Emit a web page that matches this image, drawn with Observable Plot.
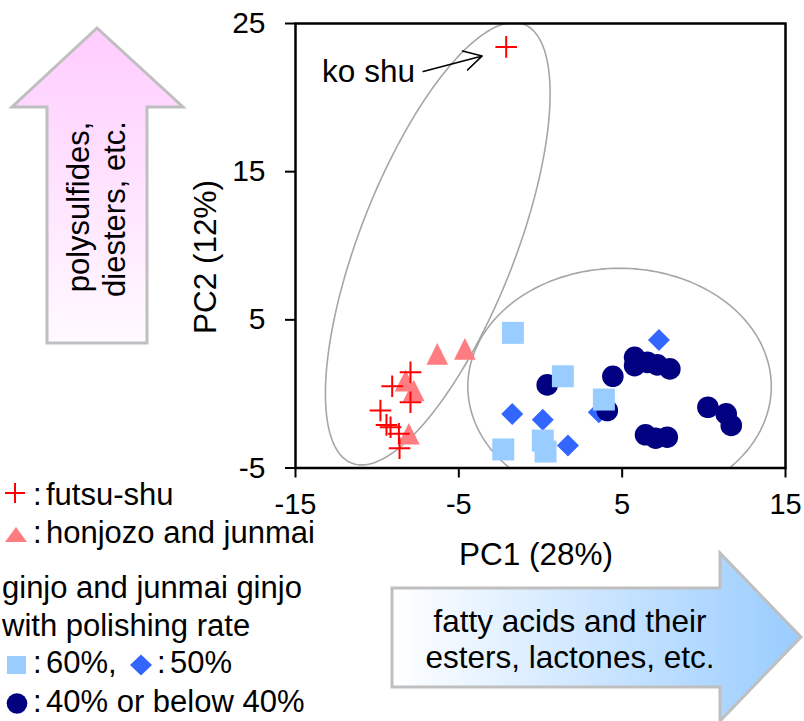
<!DOCTYPE html>
<html><head><meta charset="utf-8">
<script src="https://cdn.jsdelivr.net/npm/d3@7"></script>
<script src="https://cdn.jsdelivr.net/npm/@observablehq/plot@0.6"></script>
<style>
body{margin:0;background:#fff;}
#wrap{position:relative;width:804px;height:721px;overflow:hidden;}
#wrap svg{position:absolute;left:0;top:0;}
</style></head><body><div id="wrap"></div>
<script>
// ---- data ----
const xTicks = [-15, -5, 5, 15];
const yTicks = [-5, 5, 15, 25];

// futsu-shu (red plus); first point is "ko shu"
const futsuX = [-2.10, -7.96, -9.08, -7.96, -9.80, -9.43, -9.18, -8.67, -8.63];
const futsuY = [23.42, 1.46, 0.52, -0.56, -1.12, -2.09, -2.25, -2.69, -3.66];
// honjozo and junmai (salmon triangles)
const honjozoX = [-6.32, -4.63, -8.26, -7.76, -8.06];
const honjozoY = [2.70, 3.04, 0.90, 0.23, -2.69];
// ginjo 60% (light blue squares)
const sq60X = [-1.69, 1.37, 3.88, -2.28, 0.14, 0.31];
const sq60Y = [4.12, 1.19, -0.38, -3.75, -3.15, -3.89];
// ginjo 50% (blue diamonds)
const dia50X = [-1.73, 0.14, 1.68, 3.57, 7.25];
const dia50Y = [-1.35, -1.75, -3.48, -1.24, 3.64];
// ginjo 40% or below (navy circles)
const c40X = [0.41, 4.43, 4.09, 5.76, 5.76, 6.54, 7.15, 7.92, 10.25, 11.37, 11.68, 6.43, 7.05, 7.76];
const c40Y = [0.61, 1.19, -1.12, 2.47, 1.91, 2.13, 1.96, 1.69, -0.90, -1.35, -2.13, -2.76, -2.99, -2.92];

// grouping ellipses: centre and two semi-axis vectors, data units
const ellipses = [
  {cx: -6.29, cy: 10.14, ax: 5.27, ay: 14.81, bx: 4.42, by: -1.907},
  {cx: 4.84, cy: 0.50, ax: 9.29, ay: 0, bx: 0, by: 7.98}
];
// annotation
const koShuLabel = [{x: -13.37, y: 21.71, text: "ko shu"}];
const koShuArrow = [{x1: -7.18, y1: 21.76, x2: -3.57, y2: 22.81}];

// ---- build tables ----
const pts = (xs, ys) => xs.map((x, i) => ({x, y: ys[i]}));
const futsu = pts(futsuX, futsuY);
const honjozo = pts(honjozoX, honjozoY);
const sq60 = pts(sq60X, sq60Y);
const dia50 = pts(dia50X, dia50Y);
const c40 = pts(c40X, c40Y);
const ellipsePath = e => d3.range(0, 361, 2).map(d => {
  const t = d * Math.PI / 180;
  return {x: e.cx + e.ax * Math.cos(t) + e.bx * Math.sin(t),
          y: e.cy + e.ay * Math.cos(t) + e.by * Math.sin(t)};
});

// custom isoceles triangle (width == height)
const triSym = {draw(ctx, size) {
  const s = Math.sqrt(size) / 2;
  ctx.moveTo(0, -s); ctx.lineTo(s, s); ctx.lineTo(-s, s); ctx.closePath();
}};

const FONT = '"Liberation Sans", Arial, Helvetica, sans-serif';
const fmt = d => String(d);

const plot = Plot.plot({
  width: 804, height: 721,
  marginLeft: 295, marginRight: 19, marginTop: 23, marginBottom: 253.5,
  x: {domain: [-15, 15]},
  y: {domain: [-5, 25]},
  style: {fontFamily: FONT, background: "transparent", color: "#000", overflow: "visible"},
  marks: [
    ...ellipses.map(e => Plot.line(ellipsePath(e), {x: "x", y: "y", stroke: "#A6A6A6", strokeWidth: 1.6, clip: true})),
    Plot.axisX({ticks: xTicks, tickSize: 10, tickPadding: 15, tickFormat: fmt, fontSize: 29, label: null, strokeWidth: 2}),
    Plot.axisY({ticks: yTicks, tickSize: 10, tickPadding: 20, tickFormat: fmt, fontSize: 30, label: null, strokeWidth: 2}),
    Plot.dot(dia50, {x: "x", y: "y", symbol: "diamond2", r: 9.9, fill: "#3366FF", stroke: "none"}),
    Plot.dot(c40, {x: "x", y: "y", symbol: "circle", r: 10.8, fill: "#000080", stroke: "none"}),
    Plot.dot(sq60, {x: "x", y: "y", symbol: "square", r: 12.4, fill: "#99CCFF", stroke: "none"}),
    Plot.dot(honjozo, {x: "x", y: "y", symbol: triSym, r: 12.2, fill: "#FF7C80", stroke: "none"}),
    Plot.dot(futsu, {x: "x", y: "y", symbol: "plus", r: 7.0, fill: "none", stroke: "#FF0000", strokeWidth: 2}),
    Plot.arrow(koShuArrow, {x1: "x1", y1: "y1", x2: "x2", y2: "y2", stroke: "#000", strokeWidth: 1.6, headLength: 20, headAngle: 58}),
    Plot.text(koShuLabel, {x: "x", y: "y", text: "text", textAnchor: "start", fontSize: 31.5, fill: "#000"}),
    Plot.frame({stroke: "#000", strokeWidth: 2.5})
  ]
});
document.getElementById("wrap").appendChild(plot);

// ---- overlay: axis titles, direction arrows, legend ----
const ov = `
<svg xmlns="http://www.w3.org/2000/svg" width="804" height="721" font-family='${FONT}' fill="#000">
 <defs>
  <linearGradient id="gUp" x1="0" y1="1" x2="0" y2="0">
   <stop offset="0" stop-color="#FFFAFF"/><stop offset="1" stop-color="#FFCCFF"/>
  </linearGradient>
  <linearGradient id="gRight" x1="0" y1="0" x2="1" y2="0">
   <stop offset="0" stop-color="#FFFFFF"/><stop offset="1" stop-color="#99CCFF"/>
  </linearGradient>
 </defs>
 <text x="536" y="565" font-size="31.5" text-anchor="middle">PC1 (28%)</text>
 <text transform="translate(216,257) rotate(-90)" font-size="31.5" text-anchor="middle">PC2 (12%)</text>

 <polygon points="97,28 183,107 147,107 147,343 47,343 47,107 12,107" fill="url(#gUp)" stroke="#BFBFBF" stroke-width="3" stroke-linejoin="miter"/>
 <g transform="rotate(-90)" font-size="31" text-anchor="middle">
  <text x="-207" y="89">polysulfides,</text>
  <text x="-209" y="125">diesters, etc.</text>
 </g>

 <polygon points="392,588 720,588 720,553 801,637 720,721 720,687 392,687" fill="url(#gRight)" stroke="#BFBFBF" stroke-width="3"/>
 <g font-size="31.5" text-anchor="middle">
  <text x="570" y="632">fatty acids and their</text>
  <text x="570" y="668">esters, lactones, etc.</text>
 </g>

 <g font-size="31">
  <path d="M5,493H25M15,483V503" stroke="#FF0000" stroke-width="2" fill="none"/>
  <text y="505"><tspan x="33">:</tspan><tspan x="46">futsu-shu</tspan></text>
  <polygon points="16,527 27,542 5,542" fill="#FF7C80"/>
  <text y="542.5"><tspan x="33">:</tspan><tspan x="46">honjozo and junmai</tspan></text>
  <text x="2" y="598">ginjo and junmai ginjo</text>
  <text x="2" y="635.5">with polishing rate</text>
  <rect x="7" y="656" width="19" height="18" fill="#99CCFF"/>
  <text y="673"><tspan x="33">:</tspan><tspan x="46">60%,</tspan></text>
  <polygon points="141,654.5 152,665 141,675.5 130,665" fill="#3366FF"/>
  <text y="673"><tspan x="157">:</tspan><tspan x="170">50%</tspan></text>
  <circle cx="17" cy="703.5" r="10.3" fill="#000080"/>
  <text y="711.5"><tspan x="33">:</tspan><tspan x="46">40% or below 40%</tspan></text>
 </g>
</svg>`;
const holder = document.createElement("div");
holder.innerHTML = ov.trim();
document.getElementById("wrap").appendChild(holder.firstChild);
</script>
</body></html>
